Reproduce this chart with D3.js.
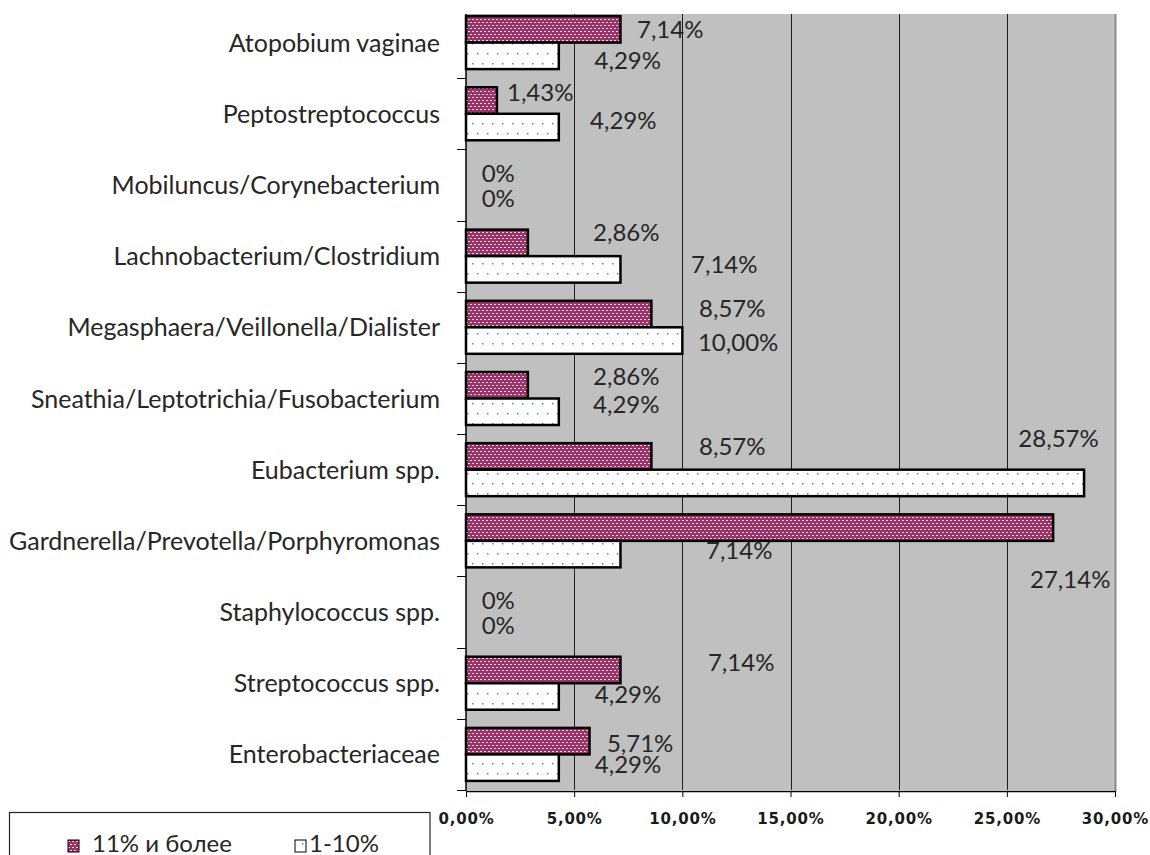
<!DOCTYPE html>
<html>
<head>
<meta charset="utf-8">
<script src="https://cdn.jsdelivr.net/npm/d3@7"></script>
<style>
  html, body { margin: 0; padding: 0; background: #fff; }
  svg { display: block; }
  .cat, .val, .leg { font-family: Lato, "Open Sans", sans-serif; font-size: 24px; fill: #262626; }
  .cat { font-size: 25px; }
  .tick-lbl { font-family: "DejaVu Sans", sans-serif; font-size: 15px; font-weight: bold; fill: #1a1a1a; letter-spacing: 0.8px; }
</style>
</head>
<body>
<script>
// Share of samples per bacterial group, by abundance level (%)
const categories = [
  "Atopobium vaginae",
  "Peptostreptococcus",
  "Mobiluncus/Corynebacterium",
  "Lachnobacterium/Clostridium",
  "Megasphaera/Veillonella/Dialister",
  "Sneathia/Leptotrichia/Fusobacterium",
  "Eubacterium spp.",
  "Gardnerella/Prevotella/Porphyromonas",
  "Staphylococcus spp.",
  "Streptococcus spp.",
  "Enterobacteriaceae"
];
const seriesNames = ["11% и более", "1-10%"];
const highShare = [7.14, 1.43, 0, 2.86, 8.57, 2.86, 8.57, 27.14, 0, 7.14, 5.71];
const lowShare  = [4.29, 4.29, 0, 7.14, 10.00, 4.29, 28.57, 7.14, 0, 4.29, 4.29];
const xTicks = [0, 5, 10, 15, 20, 25, 30];

// Hand-placed value labels: [x centre in axis units, baseline offset in px from category band top]
const highLabelSpot = [[9.44,31],[3.43,23],[1.49,32.6],[7.41,20.5],[12.31,25.3],[7.41,22.1],[12.31,20.9],[27.93,82.7],[1.49,32.5],[12.72,23.4],[8.05,33.2]];
const lowLabelSpot  = [[7.48,62],[7.27,51],[1.49,57.6],[11.94,52.5],[12.58,59.3],[7.41,50.1],[27.39,12.9],[12.63,53.7],[1.49,57.5],[7.49,55.4],[7.49,54.2]];

const W = 1150, H = 855;
const plot = { left: 466, right: 1115, top: 14, bottom: 791 };

const svg = d3.select("body").append("svg").attr("width", W).attr("height", H);

// Fill patterns for the two series
const defs = svg.append("defs");
const pHigh = defs.append("pattern").attr("id", "pat-high").attr("patternUnits", "userSpaceOnUse")
  .attr("width", 4).attr("height", 6);
pHigh.append("rect").attr("width", 4).attr("height", 6).attr("fill", "#983467");
pHigh.append("rect").attr("x", 0).attr("y", 1).attr("width", 2).attr("height", 1).attr("fill", "#f3cfe0");
pHigh.append("rect").attr("x", 2).attr("y", 4).attr("width", 2).attr("height", 1).attr("fill", "#f3cfe0");

const pLow = defs.append("pattern").attr("id", "pat-low").attr("patternUnits", "userSpaceOnUse")
  .attr("width", 10).attr("height", 20);
pLow.append("rect").attr("width", 10).attr("height", 20).attr("fill", "#ffffff");
pLow.append("rect").attr("x", 2).attr("y", 3).attr("width", 1.5).attr("height", 1.5).attr("fill", "#6f6ff8");
pLow.append("rect").attr("x", 7).attr("y", 13).attr("width", 1.5).attr("height", 1.5).attr("fill", "#6f6ff8");

const x = d3.scaleLinear().domain([0, 30]).range([plot.left, plot.right]);
const y = d3.scaleBand().domain(categories).range([7, 790]).padding(0);
const sub = d3.scaleBand().domain(["high", "low"]).range([0, y.bandwidth()]).paddingInner(0).paddingOuter(0.343);

// Plot area
svg.append("rect").attr("x", plot.left).attr("y", plot.top)
  .attr("width", plot.right - plot.left).attr("height", 790 - plot.top).attr("fill", "#c0c0c0");
svg.append("line").attr("x1", plot.right + 0.5).attr("x2", plot.right + 0.5)
  .attr("y1", plot.top).attr("y2", 791).attr("stroke", "#8a8a8a").attr("stroke-width", 2);

// Vertical gridlines
svg.append("g").selectAll("line").data(xTicks.filter(t => t > 0 && t < 30)).join("line")
  .attr("x1", d => Math.round(x(d)) + 0.5).attr("x2", d => Math.round(x(d)) + 0.5)
  .attr("y1", plot.top).attr("y2", 790).attr("stroke", "#1e1e1e").attr("stroke-width", 1);

// Bars
const rows = categories.map((c, i) => ({ c, i, high: highShare[i], low: lowShare[i] }));
const barG = svg.append("g");
[["high", "url(#pat-high)"], ["low", "url(#pat-low)"]].forEach(([key, fill]) => {
  barG.selectAll("rect." + key).data(rows.filter(r => r[key] > 0)).join("rect")
    .attr("class", key)
    .attr("x", x(0))
    .attr("y", r => y(r.c) + sub(key))
    .attr("width", r => x(r[key]) - x(0))
    .attr("height", sub.bandwidth())
    .attr("fill", fill)
    .attr("stroke", "#000").attr("stroke-width", 2.5);
});

// Axes
const xAxis = d3.axisBottom(x).tickValues(xTicks).tickSize(6).tickSizeOuter(0)
  .tickFormat(d => d.toFixed(2).replace(".", ",") + "%");
const gx = svg.append("g").attr("transform", `translate(0,${plot.bottom})`).call(xAxis);
gx.select(".domain").attr("stroke", "#000").attr("stroke-width", 1.5);
gx.selectAll(".tick line").attr("stroke", "#000");
gx.selectAll(".tick text").attr("class", "tick-lbl").attr("dy", null).attr("y", 33)
  .attr("font-family", null).attr("font-size", null).attr("fill", null);
gx.attr("font-family", null).attr("font-size", null);

// Category axis (line + boundary ticks) with labels
svg.append("line").attr("x1", plot.left).attr("x2", plot.left).attr("y1", plot.top).attr("y2", plot.bottom)
  .attr("stroke", "#000").attr("stroke-width", 1.5);
const bounds = categories.map(c => y(c) + y.bandwidth()).filter(v => v > plot.top);
svg.append("g").selectAll("line").data(bounds).join("line")
  .attr("x1", 457).attr("x2", plot.left).attr("y1", d => Math.round(d) + 0.5).attr("y2", d => Math.round(d) + 0.5)
  .attr("stroke", "#000").attr("stroke-width", 1);
svg.append("g").selectAll("text").data(categories).join("text")
  .attr("class", "cat").attr("text-anchor", "end")
  .attr("x", 440).attr("y", c => y(c) + y.bandwidth() / 2 + 9)
  .text(c => c);

// Value labels
const fmt = v => v === 0 ? "0%" : v.toFixed(2).replace(".", ",") + "%";
const labelG = svg.append("g");
rows.forEach(r => {
  [["high", highLabelSpot], ["low", lowLabelSpot]].forEach(([key, spots]) => {
    const [lx, dy] = spots[r.i];
    labelG.append("text").attr("class", "val").attr("text-anchor", "middle")
      .attr("x", x(lx)).attr("y", y(r.c) + dy).text(fmt(r[key]));
  });
});

// Legend
const leg = svg.append("g");
leg.append("rect").attr("x", 9.5).attr("y", 812.5).attr("width", 420.5).attr("height", 60)
  .attr("fill", "#fff").attr("stroke", "#222").attr("stroke-width", 1.2);
const legItems = [
  { name: seriesNames[0], fill: "url(#pat-high)", sx: 68, tx: 92 },
  { name: seriesNames[1], fill: "url(#pat-low)", sx: 295, tx: 309 }
];
legItems.forEach(it => {
  leg.append("rect").attr("x", it.sx).attr("y", 840).attr("width", 11).attr("height", 12)
    .attr("fill", it.fill).attr("stroke", "#000").attr("stroke-width", 1);
  leg.append("text").attr("class", "leg").attr("x", it.tx).attr("y", 852).text(it.name);
});
</script>
</body>
</html>
